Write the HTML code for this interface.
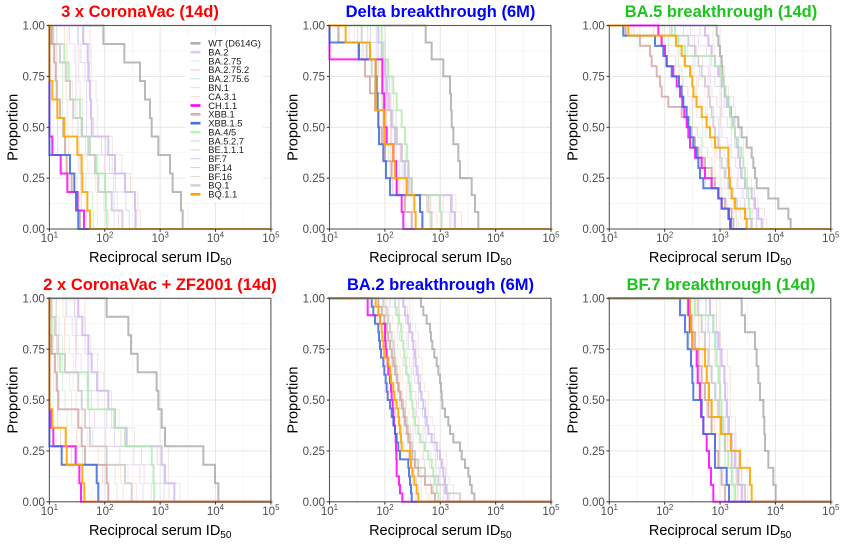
<!DOCTYPE html>
<html><head><meta charset="utf-8">
<style>
html,body{margin:0;padding:0;background:#fff;}
svg{display:block;font-family:"Liberation Sans",Arial,sans-serif;}
.t{font-weight:bold;font-size:16.5px;text-anchor:middle;}
.yt{font-size:11.5px;fill:#4d4d4d;text-anchor:end;}
.xt{font-size:11.5px;fill:#4d4d4d;text-anchor:middle;}
.xl{font-size:14.5px;fill:#000;text-anchor:middle;}
.lg{font-size:9.3px;fill:#1a1a1a;}
</style></head><body>
<svg id="s" width="842" height="546" viewBox="0 0 842 546" xmlns="http://www.w3.org/2000/svg">
<defs>
<g id="grid">
 <g stroke="#f2f2f2" stroke-width="0.7">
  <line x1="27.69" y1="0" x2="27.69" y2="203.5"/><line x1="83.06" y1="0" x2="83.06" y2="203.5"/>
  <line x1="138.44" y1="0" x2="138.44" y2="203.5"/><line x1="193.81" y1="0" x2="193.81" y2="203.5"/>
  <line x1="0" y1="25.44" x2="221.5" y2="25.44"/><line x1="0" y1="76.31" x2="221.5" y2="76.31"/>
  <line x1="0" y1="127.19" x2="221.5" y2="127.19"/><line x1="0" y1="178.06" x2="221.5" y2="178.06"/>
 </g>
 <g stroke="#e6e6e6" stroke-width="1">
  <line x1="55.38" y1="0" x2="55.38" y2="203.5"/><line x1="110.75" y1="0" x2="110.75" y2="203.5"/>
  <line x1="166.13" y1="0" x2="166.13" y2="203.5"/>
  <line x1="0" y1="50.88" x2="221.5" y2="50.88"/><line x1="0" y1="101.75" x2="221.5" y2="101.75"/>
  <line x1="0" y1="152.63" x2="221.5" y2="152.63"/>
 </g>
</g>
<g id="frame">
 <rect x="0" y="0" width="221.5" height="203.5" fill="none" stroke="#595959" stroke-width="1.1"/>
 <g stroke="#333" stroke-width="1">
  <line x1="0" y1="203.5" x2="0" y2="206.3"/><line x1="55.38" y1="203.5" x2="55.38" y2="206.3"/>
  <line x1="110.75" y1="203.5" x2="110.75" y2="206.3"/><line x1="166.13" y1="203.5" x2="166.13" y2="206.3"/>
  <line x1="221.5" y1="203.5" x2="221.5" y2="206.3"/>
  <line x1="-2.8" y1="0" x2="0" y2="0"/><line x1="-2.8" y1="50.88" x2="0" y2="50.88"/>
  <line x1="-2.8" y1="101.75" x2="0" y2="101.75"/><line x1="-2.8" y1="152.63" x2="0" y2="152.63"/>
  <line x1="-2.8" y1="203.5" x2="0" y2="203.5"/>
 </g>
</g>
<clipPath id="c0"><rect x="47.9" y="23.5" width="224.5" height="207.5"/></clipPath>
<clipPath id="c1"><rect x="328" y="23.5" width="224.5" height="207.5"/></clipPath>
<clipPath id="c2"><rect x="607.8" y="23.5" width="224.5" height="207.5"/></clipPath>
<clipPath id="c3"><rect x="47.9" y="296.3" width="224.5" height="207.5"/></clipPath>
<clipPath id="c4"><rect x="328" y="296.3" width="224.5" height="207.5"/></clipPath>
<clipPath id="c5"><rect x="607.8" y="296.3" width="224.5" height="207.5"/></clipPath>
</defs>
<rect x="0" y="0" width="842" height="546" fill="#fff"/>

<use href="#grid" transform="translate(49.4,25.5)"/>
<use href="#grid" transform="translate(329.5,25.5)"/>
<use href="#grid" transform="translate(609.3,25.5)"/>
<use href="#grid" transform="translate(49.4,298.3)"/>
<use href="#grid" transform="translate(329.5,298.3)"/>
<use href="#grid" transform="translate(609.3,298.3)"/>

<g id="series"></g>

<!-- legend -->
<g id="legend">
 <rect x="185" y="36" width="78" height="166" fill="#fff"/>
 <g stroke-linecap="butt">
  <line x1="190.5" y1="43.3" x2="200.5" y2="43.3" stroke="#b0b0b0" stroke-width="2.6"/>
  <line x1="190.5" y1="52.2" x2="200.5" y2="52.2" stroke="#dcc8f8" stroke-width="2.6"/>
  <line x1="190.5" y1="61.1" x2="200.5" y2="61.1" stroke="#cdeeee" stroke-width="1"/>
  <line x1="190.5" y1="69.9" x2="200.5" y2="69.9" stroke="#e8c6c6" stroke-width="1"/>
  <line x1="190.5" y1="78.8" x2="200.5" y2="78.8" stroke="#c6e6c6" stroke-width="1"/>
  <line x1="190.5" y1="87.7" x2="200.5" y2="87.7" stroke="#fcd6bc" stroke-width="1"/>
  <line x1="190.5" y1="96.6" x2="200.5" y2="96.6" stroke="#fcd8d8" stroke-width="1"/>
  <line x1="190.5" y1="105.5" x2="200.5" y2="105.5" stroke="#ff00ff" stroke-width="2.6"/>
  <line x1="190.5" y1="114.3" x2="200.5" y2="114.3" stroke="#d8b0b0" stroke-width="2.6"/>
  <line x1="190.5" y1="123.2" x2="200.5" y2="123.2" stroke="#4a70e0" stroke-width="2.6"/>
  <line x1="190.5" y1="132.1" x2="200.5" y2="132.1" stroke="#b8f8b8" stroke-width="2.6"/>
  <line x1="190.5" y1="141.0" x2="200.5" y2="141.0" stroke="#ccd2f4" stroke-width="1"/>
  <line x1="190.5" y1="149.9" x2="200.5" y2="149.9" stroke="#f8c4da" stroke-width="1"/>
  <line x1="190.5" y1="158.7" x2="200.5" y2="158.7" stroke="#ccccec" stroke-width="1"/>
  <line x1="190.5" y1="167.6" x2="200.5" y2="167.6" stroke="#dcc8dc" stroke-width="1"/>
  <line x1="190.5" y1="176.5" x2="200.5" y2="176.5" stroke="#ecd8cc" stroke-width="1"/>
  <line x1="190.5" y1="185.4" x2="200.5" y2="185.4" stroke="#d4d4d4" stroke-width="2.6"/>
  <line x1="190.5" y1="194.3" x2="200.5" y2="194.3" stroke="#ffa500" stroke-width="2.6"/>
 </g>
 <text class="lg" x="208.3" y="46.6">WT (D614G)</text>
 <text class="lg" x="208.3" y="55.5">BA.2</text>
 <text class="lg" x="208.3" y="64.4">BA.2.75</text>
 <text class="lg" x="208.3" y="73.2">BA.2.75.2</text>
 <text class="lg" x="208.3" y="82.1">BA.2.75.6</text>
 <text class="lg" x="208.3" y="91.0">BN.1</text>
 <text class="lg" x="208.3" y="99.9">CA.3.1</text>
 <text class="lg" x="208.3" y="108.8">CH.1.1</text>
 <text class="lg" x="208.3" y="117.6">XBB.1</text>
 <text class="lg" x="208.3" y="126.5">XBB.1.5</text>
 <text class="lg" x="208.3" y="135.4">BA.4/5</text>
 <text class="lg" x="208.3" y="144.3">BA.5.2.7</text>
 <text class="lg" x="208.3" y="153.2">BE.1.1.1</text>
 <text class="lg" x="208.3" y="162.0">BF.7</text>
 <text class="lg" x="208.3" y="170.9">BF.14</text>
 <text class="lg" x="208.3" y="179.8">BF.16</text>
 <text class="lg" x="208.3" y="188.7">BQ.1</text>
 <text class="lg" x="208.3" y="197.6">BQ.1.1</text>
</g>

<use href="#frame" transform="translate(49.4,25.5)"/>
<use href="#frame" transform="translate(329.5,25.5)"/>
<use href="#frame" transform="translate(609.3,25.5)"/>
<use href="#frame" transform="translate(49.4,298.3)"/>
<use href="#frame" transform="translate(329.5,298.3)"/>
<use href="#frame" transform="translate(609.3,298.3)"/>

<!-- Titles -->
<text class="t" x="140" y="17" fill="#ff0000">3 x CoronaVac (14d)</text>
<text class="t" x="440.5" y="17" fill="#0000ff">Delta breakthrough (6M)</text>
<text class="t" x="721" y="17" fill="#1cc41c">BA.5 breakthrough (14d)</text>
<text class="t" x="160" y="290" fill="#ff0000">2 x CoronaVac + ZF2001 (14d)</text>
<text class="t" x="440.5" y="290" fill="#0000ff">BA.2 breakthrough (6M)</text>
<text class="t" x="721" y="290" fill="#1cc41c">BF.7 breakthrough (14d)</text>

<!-- Y tick labels -->
<g class="yt">
<text class="yt" x="44.9" y="29.6">1.00</text><text class="yt" x="44.9" y="80.5">0.75</text><text class="yt" x="44.9" y="131.4">0.50</text><text class="yt" x="44.9" y="182.2">0.25</text><text class="yt" x="44.9" y="233.1">0.00</text>
<text class="yt" x="325" y="29.6">1.00</text><text class="yt" x="325" y="80.5">0.75</text><text class="yt" x="325" y="131.4">0.50</text><text class="yt" x="325" y="182.2">0.25</text><text class="yt" x="325" y="233.1">0.00</text>
<text class="yt" x="604.8" y="29.6">1.00</text><text class="yt" x="604.8" y="80.5">0.75</text><text class="yt" x="604.8" y="131.4">0.50</text><text class="yt" x="604.8" y="182.2">0.25</text><text class="yt" x="604.8" y="233.1">0.00</text>
<text class="yt" x="44.9" y="302.4">1.00</text><text class="yt" x="44.9" y="353.3">0.75</text><text class="yt" x="44.9" y="404.2">0.50</text><text class="yt" x="44.9" y="455">0.25</text><text class="yt" x="44.9" y="505.9">0.00</text>
<text class="yt" x="325" y="302.4">1.00</text><text class="yt" x="325" y="353.3">0.75</text><text class="yt" x="325" y="404.2">0.50</text><text class="yt" x="325" y="455">0.25</text><text class="yt" x="325" y="505.9">0.00</text>
<text class="yt" x="604.8" y="302.4">1.00</text><text class="yt" x="604.8" y="353.3">0.75</text><text class="yt" x="604.8" y="404.2">0.50</text><text class="yt" x="604.8" y="455">0.25</text><text class="yt" x="604.8" y="505.9">0.00</text>
</g>

<!-- X tick labels -->
<text class="xt" x="49.4" y="242">10<tspan dy="-4.6" font-size="8">1</tspan></text>
<text class="xt" x="104.8" y="242">10<tspan dy="-4.6" font-size="8">2</tspan></text>
<text class="xt" x="160.2" y="242">10<tspan dy="-4.6" font-size="8">3</tspan></text>
<text class="xt" x="215.5" y="242">10<tspan dy="-4.6" font-size="8">4</tspan></text>
<text class="xt" x="270.9" y="242">10<tspan dy="-4.6" font-size="8">5</tspan></text>
<text class="xt" x="329.5" y="242">10<tspan dy="-4.6" font-size="8">1</tspan></text>
<text class="xt" x="384.9" y="242">10<tspan dy="-4.6" font-size="8">2</tspan></text>
<text class="xt" x="440.3" y="242">10<tspan dy="-4.6" font-size="8">3</tspan></text>
<text class="xt" x="495.6" y="242">10<tspan dy="-4.6" font-size="8">4</tspan></text>
<text class="xt" x="551" y="242">10<tspan dy="-4.6" font-size="8">5</tspan></text>
<text class="xt" x="609.3" y="242">10<tspan dy="-4.6" font-size="8">1</tspan></text>
<text class="xt" x="664.7" y="242">10<tspan dy="-4.6" font-size="8">2</tspan></text>
<text class="xt" x="720.1" y="242">10<tspan dy="-4.6" font-size="8">3</tspan></text>
<text class="xt" x="775.4" y="242">10<tspan dy="-4.6" font-size="8">4</tspan></text>
<text class="xt" x="830.8" y="242">10<tspan dy="-4.6" font-size="8">5</tspan></text>
<text class="xt" x="49.4" y="514.8">10<tspan dy="-4.6" font-size="8">1</tspan></text>
<text class="xt" x="104.8" y="514.8">10<tspan dy="-4.6" font-size="8">2</tspan></text>
<text class="xt" x="160.2" y="514.8">10<tspan dy="-4.6" font-size="8">3</tspan></text>
<text class="xt" x="215.5" y="514.8">10<tspan dy="-4.6" font-size="8">4</tspan></text>
<text class="xt" x="270.9" y="514.8">10<tspan dy="-4.6" font-size="8">5</tspan></text>
<text class="xt" x="329.5" y="514.8">10<tspan dy="-4.6" font-size="8">1</tspan></text>
<text class="xt" x="384.9" y="514.8">10<tspan dy="-4.6" font-size="8">2</tspan></text>
<text class="xt" x="440.3" y="514.8">10<tspan dy="-4.6" font-size="8">3</tspan></text>
<text class="xt" x="495.6" y="514.8">10<tspan dy="-4.6" font-size="8">4</tspan></text>
<text class="xt" x="551" y="514.8">10<tspan dy="-4.6" font-size="8">5</tspan></text>
<text class="xt" x="609.3" y="514.8">10<tspan dy="-4.6" font-size="8">1</tspan></text>
<text class="xt" x="664.7" y="514.8">10<tspan dy="-4.6" font-size="8">2</tspan></text>
<text class="xt" x="720.1" y="514.8">10<tspan dy="-4.6" font-size="8">3</tspan></text>
<text class="xt" x="775.4" y="514.8">10<tspan dy="-4.6" font-size="8">4</tspan></text>
<text class="xt" x="830.8" y="514.8">10<tspan dy="-4.6" font-size="8">5</tspan></text>

<!-- Axis titles -->
<text class="xl" x="160.2" y="262">Reciprocal serum ID<tspan dy="3" font-size="10">50</tspan></text>
<text class="xl" x="440.3" y="262">Reciprocal serum ID<tspan dy="3" font-size="10">50</tspan></text>
<text class="xl" x="720.1" y="262">Reciprocal serum ID<tspan dy="3" font-size="10">50</tspan></text>
<text class="xl" x="160.2" y="534.8">Reciprocal serum ID<tspan dy="3" font-size="10">50</tspan></text>
<text class="xl" x="440.3" y="534.8">Reciprocal serum ID<tspan dy="3" font-size="10">50</tspan></text>
<text class="xl" x="720.1" y="534.8">Reciprocal serum ID<tspan dy="3" font-size="10">50</tspan></text>

<text class="xl" transform="translate(17.4,127.25) rotate(-90)">Proportion</text>
<text class="xl" transform="translate(297.5,127.25) rotate(-90)">Proportion</text>
<text class="xl" transform="translate(577.3,127.25) rotate(-90)">Proportion</text>
<text class="xl" transform="translate(17.4,400.05) rotate(-90)">Proportion</text>
<text class="xl" transform="translate(297.5,400.05) rotate(-90)">Proportion</text>
<text class="xl" transform="translate(577.3,400.05) rotate(-90)">Proportion</text>
</svg>
<script>
(function(){
var NS="http://www.w3.org/2000/svg";
var W=221.5,H=203.5;
var P=[
 {ox:45,x0:49.4,y0:25.5,d:{
  WT:[175,238,285,300,315,320,340,375,383,408,413],
  BA2:[115,128,130,135,138,140,190,210,240,270,272],
  CH:[13,13,13,13,13,13,22,47,67,97,117],
  XBB15:[13,13,13,13,13,13,13,75,88,93,100],
  BQ11:[13,13,13,22,37,58,97,110,112,127,135],
  BA45:[18,58,70,75,105,110,135,155,180,183,185],
  XBB1:[20,28,32,35,45,55,60,65,80,100,105],
  BQ1:[25,45,62,75,85,110,130,150,160,200,232]}},
 {ox:325,x0:329.5,y0:25.5,d:{
  WT:[302,320,355,375,378,380,385,400,405,440,450,460],
  BA2:[160,170,180,185,190,200,210,230,240,250,380,390],
  CH:[13,13,172,172,178,178,185,205,213,215,230,235],
  XBB15:[13,102,152,155,158,160,162,175,183,195,285,292],
  BQ11:[62,135,152,152,152,178,178,205,210,245,268,272],
  BA45:[170,175,190,205,215,230,240,245,250,260,345,350],
  XBB1:[40,100,120,135,150,160,170,180,200,215,240,260],
  BQ1:[110,125,140,150,175,200,215,230,250,260,310,320]}},
 {ox:605,x0:609.3,y0:25.5,d:{
  WT:[335,340,345,350,352,355,360,370,378,400,410,425,440,445,450,455,490,520,550,557],
  BA2:[300,310,320,330,340,350,360,365,375,385,390,395,400,405,410,420,440,450,460,470],
  CH:[160,170,180,185,205,215,225,232,238,245,250,255,270,290,300,320,340,350,372,375],
  XBB15:[55,150,175,185,200,222,230,235,245,250,255,265,275,280,285,295,340,350,370,378],
  BQ11:[70,213,230,240,255,262,265,275,290,305,315,330,370,370,372,375,380,390,420,425],
  BA45:[210,220,240,330,345,355,362,370,375,380,390,400,410,415,420,425,430,432,435,440],
  XBB1:[62,105,135,140,155,165,170,190,230,250,260,270,280,300,320,330,340,360,380,385],
  BQ1:[200,250,270,280,290,300,310,315,320,325,330,340,345,350,360,370,380,395,420,440]}},
 {ox:45,x0:49.4,y0:298.3,d:{
  WT:[185,250,258,278,335,340,350,360,475,510,520],
  BA2:[100,112,130,140,157,190,210,245,350,360,388],
  CH:[13,13,13,13,13,13,18,25,92,103,108],
  XBB15:[13,13,13,13,13,13,13,13,50,155,160],
  BQ11:[13,13,13,13,13,13,22,62,65,112,118],
  BA45:[15,20,20,45,128,130,208,240,320,325,328],
  XBB1:[13,13,20,30,35,40,100,110,120,185,190],
  BQ1:[20,30,40,60,100,110,120,135,185,240,260]}},
 {ox:325,x0:329.5,y0:298.3,d:{
  WT:[288,295,305,315,318,322,328,335,340,345,348,350,352,360,370,375,385,405,410,420,430,435,440,448],
  BA2:[235,240,248,255,262,265,270,272,275,280,285,290,295,300,305,310,320,335,345,350,355,360,365,368],
  CH:[128,128,165,180,180,182,185,188,190,195,198,200,203,205,207,210,212,213,214,215,215,222,225,232],
  XBB15:[140,145,150,160,162,165,168,175,178,182,185,188,195,200,205,210,215,220,225,250,252,255,258,260],
  BQ11:[152,160,165,170,172,175,178,190,195,198,205,208,215,220,222,225,228,230,255,258,262,268,275,280],
  BA45:[210,215,222,228,230,235,238,242,245,250,255,258,262,265,270,280,285,300,310,320,325,330,335,340],
  XBB1:[160,170,178,185,190,195,200,205,210,215,220,225,230,235,240,245,250,255,262,270,280,300,320,330],
  BQ1:[175,185,190,195,200,205,208,210,215,218,222,228,235,240,245,250,255,262,270,280,300,340,360,405]}},
 {ox:605,x0:609.3,y0:298.3,d:{
  WT:[410,420,450,455,460,465,475,478,480,490,505,512],
  BA2:[315,325,340,350,358,360,365,372,380,390,400,410],
  CH:[250,255,262,275,278,285,288,295,305,312,318,325],
  XBB15:[225,240,248,258,262,265,290,295,330,330,365,372],
  BQ11:[255,258,262,300,305,312,320,348,378,405,435,440],
  BA45:[270,325,330,335,340,345,350,355,360,370,380,390],
  XBB1:[250,260,270,280,290,300,310,320,330,340,350,360],
  BQ1:[280,290,300,310,320,330,340,350,360,380,400,420]}}
];
var faint=["#cdeeee","#e8c6c6","#c6e6c6","#fcd6bc","#fcd8d8","#ccd2f4","#f8c4da","#ccccec","#dcc8dc","#ecd8cc"];
var order=[["WT","#a8a8a8",2.0,0.8],["BA2","#d2b9f3",2.0,0.85],["BA45","#a8eea8",1.9,0.8],["BQ1","#c8c8c8",1.9,0.8],["XBB1","#cfa0a0",1.9,0.8],["CH","#ff00ff",2.0,0.85],["XBB15","#4068e0",2.0,0.85],["BQ11","#ffa500",2.0,0.9]];
var root=document.getElementById("series");
function mk(p,xs,col,w,op,g){
  var n=xs.length,step=H/n;
  var d="M"+(p.x0-3)+","+p.y0;
  for(var k=0;k<n;k++){
    var x=Math.max(p.x0,p.ox+xs[k]/3);
    d+="H"+x.toFixed(2)+"V"+(p.y0+(k+1)*step).toFixed(2);
  }
  d+="H"+(p.x0+W+3);
  var e=document.createElementNS(NS,"path");
  e.setAttribute("d",d);e.setAttribute("fill","none");
  e.setAttribute("stroke",col);e.setAttribute("stroke-width",w);
  e.setAttribute("stroke-opacity",op);
  g.appendChild(e);
}
P.forEach(function(p,i){
  var g=document.createElementNS(NS,"g");
  g.setAttribute("clip-path","url(#c"+i+")");
  root.appendChild(g);
  var lo=p.d.XBB15,hi=p.d.BA2,n=lo.length;
  for(var j=0;j<faint.length;j++){
    var t=-0.05+j*0.12,xs=[],prev=13;
    for(var k=0;k<n;k++){
      var v=lo[k]+(hi[k]-lo[k])*t+7*Math.sin(j*2.3+k*1.7)+10;
      v=Math.max(v,prev,13);xs.push(v);prev=v;
    }
    mk(p,xs,faint[j],0.9,0.7,g);
  }
  order.forEach(function(o){mk(p,p.d[o[0]],o[1],o[2],o[3],g);});
});
})();
</script>
</body></html>
